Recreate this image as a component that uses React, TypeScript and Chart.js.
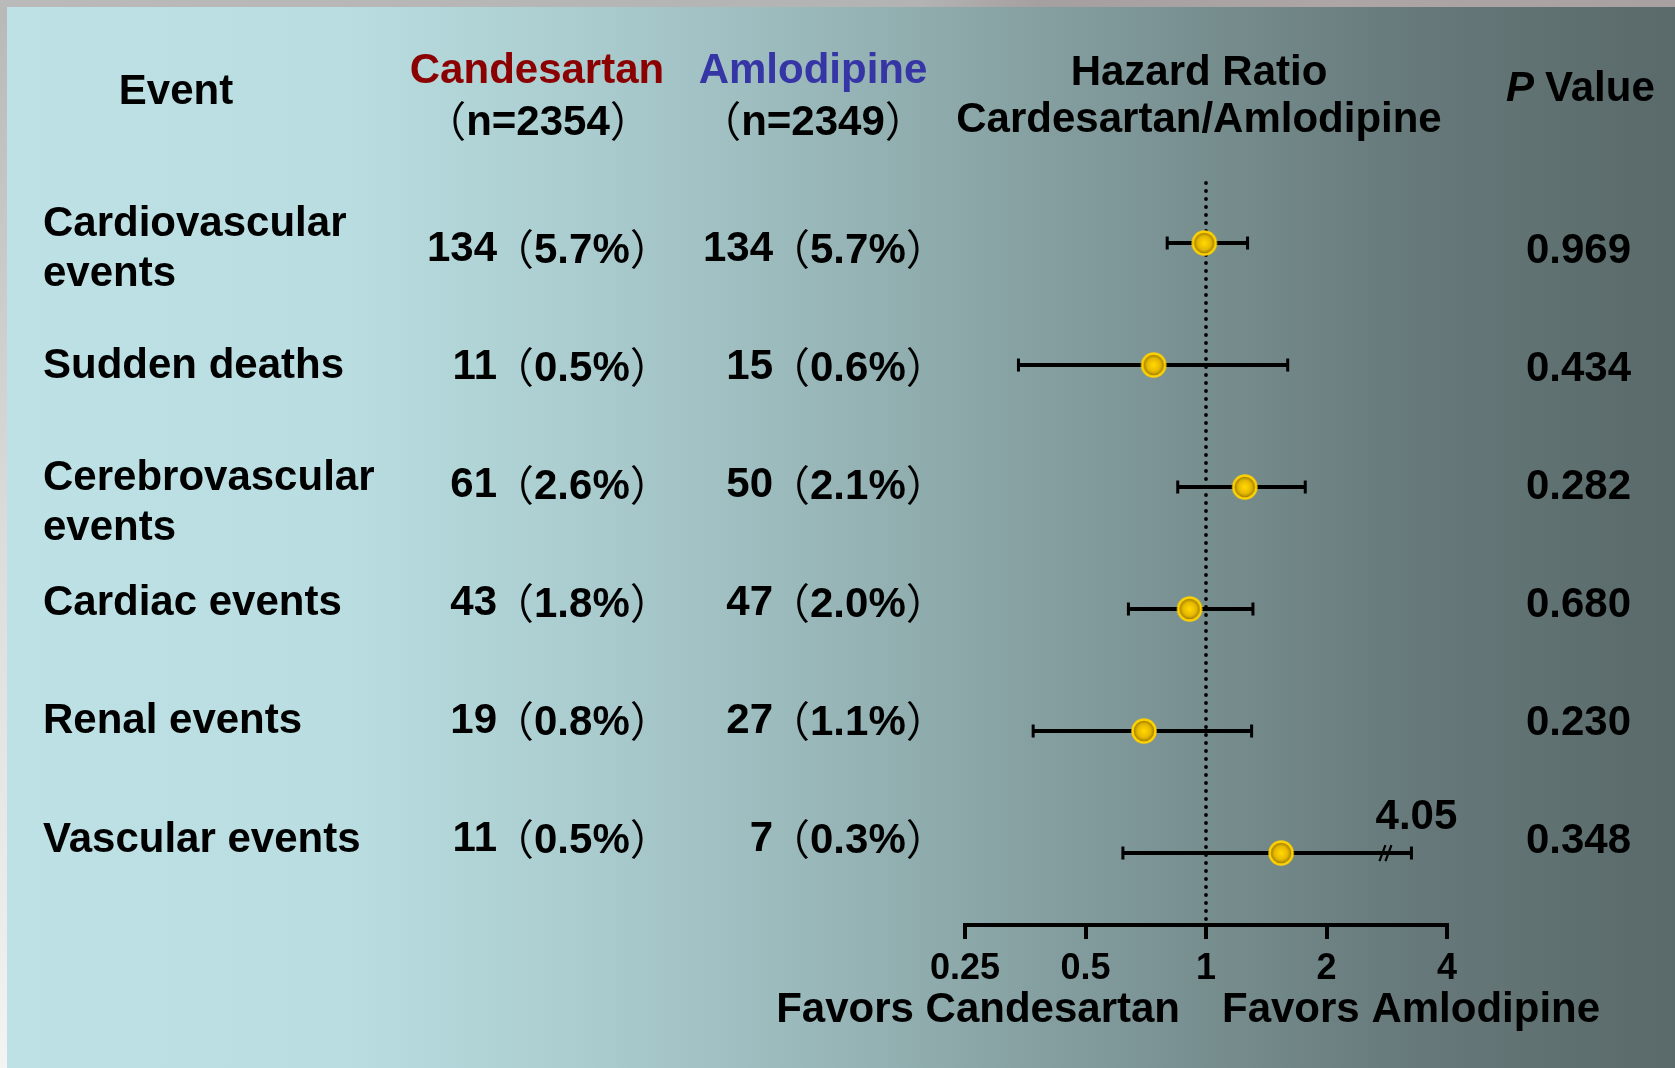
import React, { useEffect, useRef } from 'react';
import { Chart, registerables } from 'chart.js';

Chart.register(...registerables);

const W = 1675;
const H = 1068;
const FONT = "'Liberation Sans', Arial, 'Noto Sans CJK SC', sans-serif";
const PAREN_FONT = "'Noto Sans CJK SC', 'Noto Sans CJK JP', sans-serif";

// ---- table data ----
const eventLabels: string[][] = [
  ['Cardiovascular', 'events'],
  ['Sudden deaths'],
  ['Cerebrovascular', 'events'],
  ['Cardiac events'],
  ['Renal events'],
  ['Vascular events'],
];
const candesartanCounts = [134, 11, 61, 43, 19, 11];
const candesartanPct = ['5.7%', '0.5%', '2.6%', '1.8%', '0.8%', '0.5%'];
const amlodipineCounts = [134, 15, 50, 47, 27, 7];
const amlodipinePct = ['5.7%', '0.6%', '2.1%', '2.0%', '1.1%', '0.3%'];
const pValues = ['0.969', '0.434', '0.282', '0.680', '0.230', '0.348'];

// ---- hazard ratios (Candesartan / Amlodipine) with 95% CI ----
const hazardRatios = [0.99, 0.74, 1.25, 0.91, 0.7, 1.54];
const ciLower = [0.8, 0.34, 0.85, 0.64, 0.37, 0.62];
const ciUpper = [1.27, 1.6, 1.77, 1.31, 1.3, 4.05];
// upper limits past this are drawn cut with a break mark and their value written above
const ciDisplayLimit = 3.26;

const xTicks = [0.25, 0.5, 1, 2, 4];
const xTickLabels = ['0.25', '0.5', '1', '2', '4'];

const headerN = { candesartan: 2354, amlodipine: 2349 };

function font(size: number, italic = false) {
  return `${italic ? 'italic ' : ''}bold ${size}px ${FONT}`;
}

function drawText(
  ctx: CanvasRenderingContext2D,
  s: string,
  x: number,
  y: number,
  align: CanvasTextAlign,
  size = 42,
  color = '#000',
  italic = false
) {
  ctx.font = font(size, italic);
  ctx.textAlign = align;
  ctx.textBaseline = 'alphabetic';
  ctx.fillStyle = color;
  ctx.fillText(s, x, y);
}

// "（inner）" with light full-width brackets around bold text
function drawBracketed(
  ctx: CanvasRenderingContext2D,
  inner: string,
  x: number,
  y: number,
  align: 'left' | 'center'
) {
  const pf = `normal 42px ${PAREN_FONT}`;
  ctx.textBaseline = 'alphabetic';
  ctx.fillStyle = '#000';
  ctx.textAlign = 'left';
  ctx.font = pf;
  const pw1 = ctx.measureText('（').width;
  const pw2 = ctx.measureText('）').width;
  ctx.font = font(42);
  const iw = ctx.measureText(inner).width;
  const total = pw1 + iw + pw2;
  let sx = align === 'center' ? x - total / 2 : x;
  ctx.font = pf;
  ctx.fillText('（', sx, y + 2);
  ctx.font = font(42);
  ctx.fillText(inner, sx + pw1, y);
  ctx.font = pf;
  ctx.fillText('）', sx + pw1 + iw, y + 2);
}

function makeMarker(): HTMLCanvasElement {
  const c = document.createElement('canvas');
  c.width = 30;
  c.height = 30;
  const g = c.getContext('2d')!;
  const grad = g.createRadialGradient(15, 15, 1, 15, 15, 11.5);
  grad.addColorStop(0, '#ffd600');
  grad.addColorStop(0.55, '#e6b800');
  grad.addColorStop(1, '#8a6c00');
  g.beginPath();
  g.arc(15, 15, 11.5, 0, Math.PI * 2);
  g.fillStyle = grad;
  g.fill();
  g.lineWidth = 2.5;
  g.strokeStyle = '#ffd200';
  g.stroke();
  return c;
}

const backgroundPlugin = {
  id: 'slideBackground',
  beforeDraw(chart: Chart) {
    const ctx = chart.ctx;
    ctx.save();
    const topBand = ctx.createLinearGradient(0, 0, W, 0);
    topBand.addColorStop(0, '#bababa');
    topBand.addColorStop(0.55, '#b3b3b3');
    topBand.addColorStop(0.62, '#a69f9f');
    topBand.addColorStop(0.8, '#aea6a6');
    topBand.addColorStop(1, '#a9a1a1');
    ctx.fillStyle = topBand;
    ctx.fillRect(0, 0, W, 7);
    const leftBand = ctx.createLinearGradient(0, 0, 0, H);
    leftBand.addColorStop(0, '#b8b8b8');
    leftBand.addColorStop(0.5, '#dcdcdc');
    leftBand.addColorStop(0.9, '#eeeeee');
    leftBand.addColorStop(1, '#f4f4f4');
    ctx.fillStyle = leftBand;
    ctx.fillRect(0, 7, 7, H - 7);

    const panel = ctx.createLinearGradient(7, 0, W, 0);
    panel.addColorStop(0, '#bde1e4');
    panel.addColorStop(0.2, '#b9dde0');
    panel.addColorStop(0.35, '#aacccf');
    panel.addColorStop(0.5, '#97b5b7');
    panel.addColorStop(0.6, '#88a3a4');
    panel.addColorStop(0.72, '#778e8f');
    panel.addColorStop(0.85, '#667879');
    panel.addColorStop(1, '#5a6a6b');
    ctx.fillStyle = panel;
    ctx.fillRect(7, 7, W - 7, H - 7);
    ctx.restore();
  },
};

const forestPlugin = {
  id: 'forestMarks',
  beforeDatasetsDraw(chart: Chart) {
    const ctx = chart.ctx;
    const xs = chart.scales.x;
    const ys = chart.scales.y;
    const area = chart.chartArea;
    ctx.save();

    // dotted line of no effect at HR = 1
    const x1 = xs.getPixelForValue(1);
    ctx.fillStyle = '#000';
    for (let y = area.top; y < area.bottom - 2; y += 8) {
      ctx.beginPath();
      ctx.arc(x1, y, 1.9, 0, Math.PI * 2);
      ctx.fill();
    }

    // confidence intervals
    ctx.strokeStyle = '#000';
    for (let i = 0; i < hazardRatios.length; i++) {
      const y = ys.getPixelForValue(i);
      const broken = ciUpper[i] > ciDisplayLimit;
      const xl = xs.getPixelForValue(ciLower[i]);
      const xr = xs.getPixelForValue(broken ? ciDisplayLimit : ciUpper[i]);
      ctx.lineWidth = 4;
      ctx.beginPath();
      ctx.moveTo(xl, y);
      ctx.lineTo(xr, y);
      ctx.stroke();
      ctx.fillRect(xl - 1.5, y - 6.5, 3, 13);
      ctx.fillRect(xr - 1.5, y - 6.5, 3, 13);
      if (broken) {
        const bx = xr - 25;
        ctx.lineWidth = 2.2;
        ctx.beginPath();
        ctx.moveTo(bx - 7, y + 8);
        ctx.lineTo(bx - 1, y - 8);
        ctx.moveTo(bx - 1, y + 8);
        ctx.lineTo(bx + 5, y - 8);
        ctx.stroke();
        drawText(ctx, ciUpper[i].toFixed(2), xr + 5, y - 24, 'center');
      }
    }
    ctx.restore();
  },
};

const tablePlugin = {
  id: 'tableText',
  afterDraw(chart: Chart) {
    const ctx = chart.ctx;
    ctx.save();

    // column headers
    drawText(ctx, 'Event', 176, 104, 'center');
    drawText(ctx, 'Candesartan', 537, 83, 'center', 42, '#8b0000');
    drawBracketed(ctx, `n=${headerN.candesartan}`, 538, 135, 'center');
    drawText(ctx, 'Amlodipine', 813, 83, 'center', 42, '#3535a6');
    drawBracketed(ctx, `n=${headerN.amlodipine}`, 813, 135, 'center');
    drawText(ctx, 'Hazard Ratio', 1199, 85, 'center');
    drawText(ctx, 'Cardesartan/Amlodipine', 1199, 132, 'center');
    drawText(ctx, 'P', 1506, 101, 'left', 42, '#000', true);
    drawText(ctx, 'Value', 1545, 101, 'left');

    // rows
    const labelY = [[236, 286], [378], [490, 540], [615], [733], [852]];
    for (let i = 0; i < eventLabels.length; i++) {
      const base = 261 + i * 118;
      eventLabels[i].forEach((line, k) => drawText(ctx, line, 43, labelY[i][k], 'left'));
      drawText(ctx, String(candesartanCounts[i]), 497, base, 'right');
      drawBracketed(ctx, candesartanPct[i], 492, base + 2, 'left');
      drawText(ctx, String(amlodipineCounts[i]), 773, base, 'right');
      drawBracketed(ctx, amlodipinePct[i], 768, base + 2, 'left');
      drawText(ctx, pValues[i], 1631, base + 2, 'right');
    }

    // direction captions under the axis
    drawText(ctx, 'Favors Candesartan', 1180, 1022, 'right');
    drawText(ctx, 'Favors Amlodipine', 1222, 1022, 'left');
    ctx.restore();
  },
};

export default function App() {
  const canvasRef = useRef<HTMLCanvasElement | null>(null);

  useEffect(() => {
    const canvas = canvasRef.current;
    if (!canvas) return;
    const marker = makeMarker();
    const chart = new Chart(canvas, {
      type: 'scatter',
      data: {
        datasets: [
          {
            data: hazardRatios.map((v, i) => ({ x: v, y: i })),
            pointStyle: marker as any,
            pointRadius: 12,
            pointHoverRadius: 12,
          },
        ],
      },
      options: {
        animation: false,
        responsive: false,
        events: [],
        layout: { padding: { left: 965, right: 228, top: 183, bottom: 73 } },
        plugins: {
          legend: { display: false },
          tooltip: { enabled: false },
        },
        scales: {
          x: {
            type: 'logarithmic',
            min: 0.25,
            max: 4,
            afterBuildTicks: (s: any) => {
              s.ticks = xTicks.map((v) => ({ value: v }));
            },
            afterFit: (s: any) => {
              s.height = 70;
            },
            border: { display: true, color: '#000', width: 4 },
            grid: {
              drawOnChartArea: false,
              drawTicks: true,
              tickLength: 14,
              color: '#000',
              lineWidth: 4,
            },
            ticks: {
              autoSkip: false,
              maxRotation: 0,
              color: '#000',
              padding: 8,
              font: { family: FONT, size: 36, weight: 'bold' },
              callback: (_v: any, i: number) => xTickLabels[i],
            },
          },
          y: {
            type: 'linear',
            display: false,
            min: -0.492,
            max: 5.59,
            reverse: true,
          },
        },
      },
      plugins: [backgroundPlugin, forestPlugin, tablePlugin],
    } as any);
    return () => chart.destroy();
  }, []);

  return (
    <div style={{ position: 'fixed', left: 0, top: 0, width: W, height: H }}>
      <canvas ref={canvasRef} width={W} height={H} style={{ width: W, height: H, display: 'block' }} />
    </div>
  );
}
